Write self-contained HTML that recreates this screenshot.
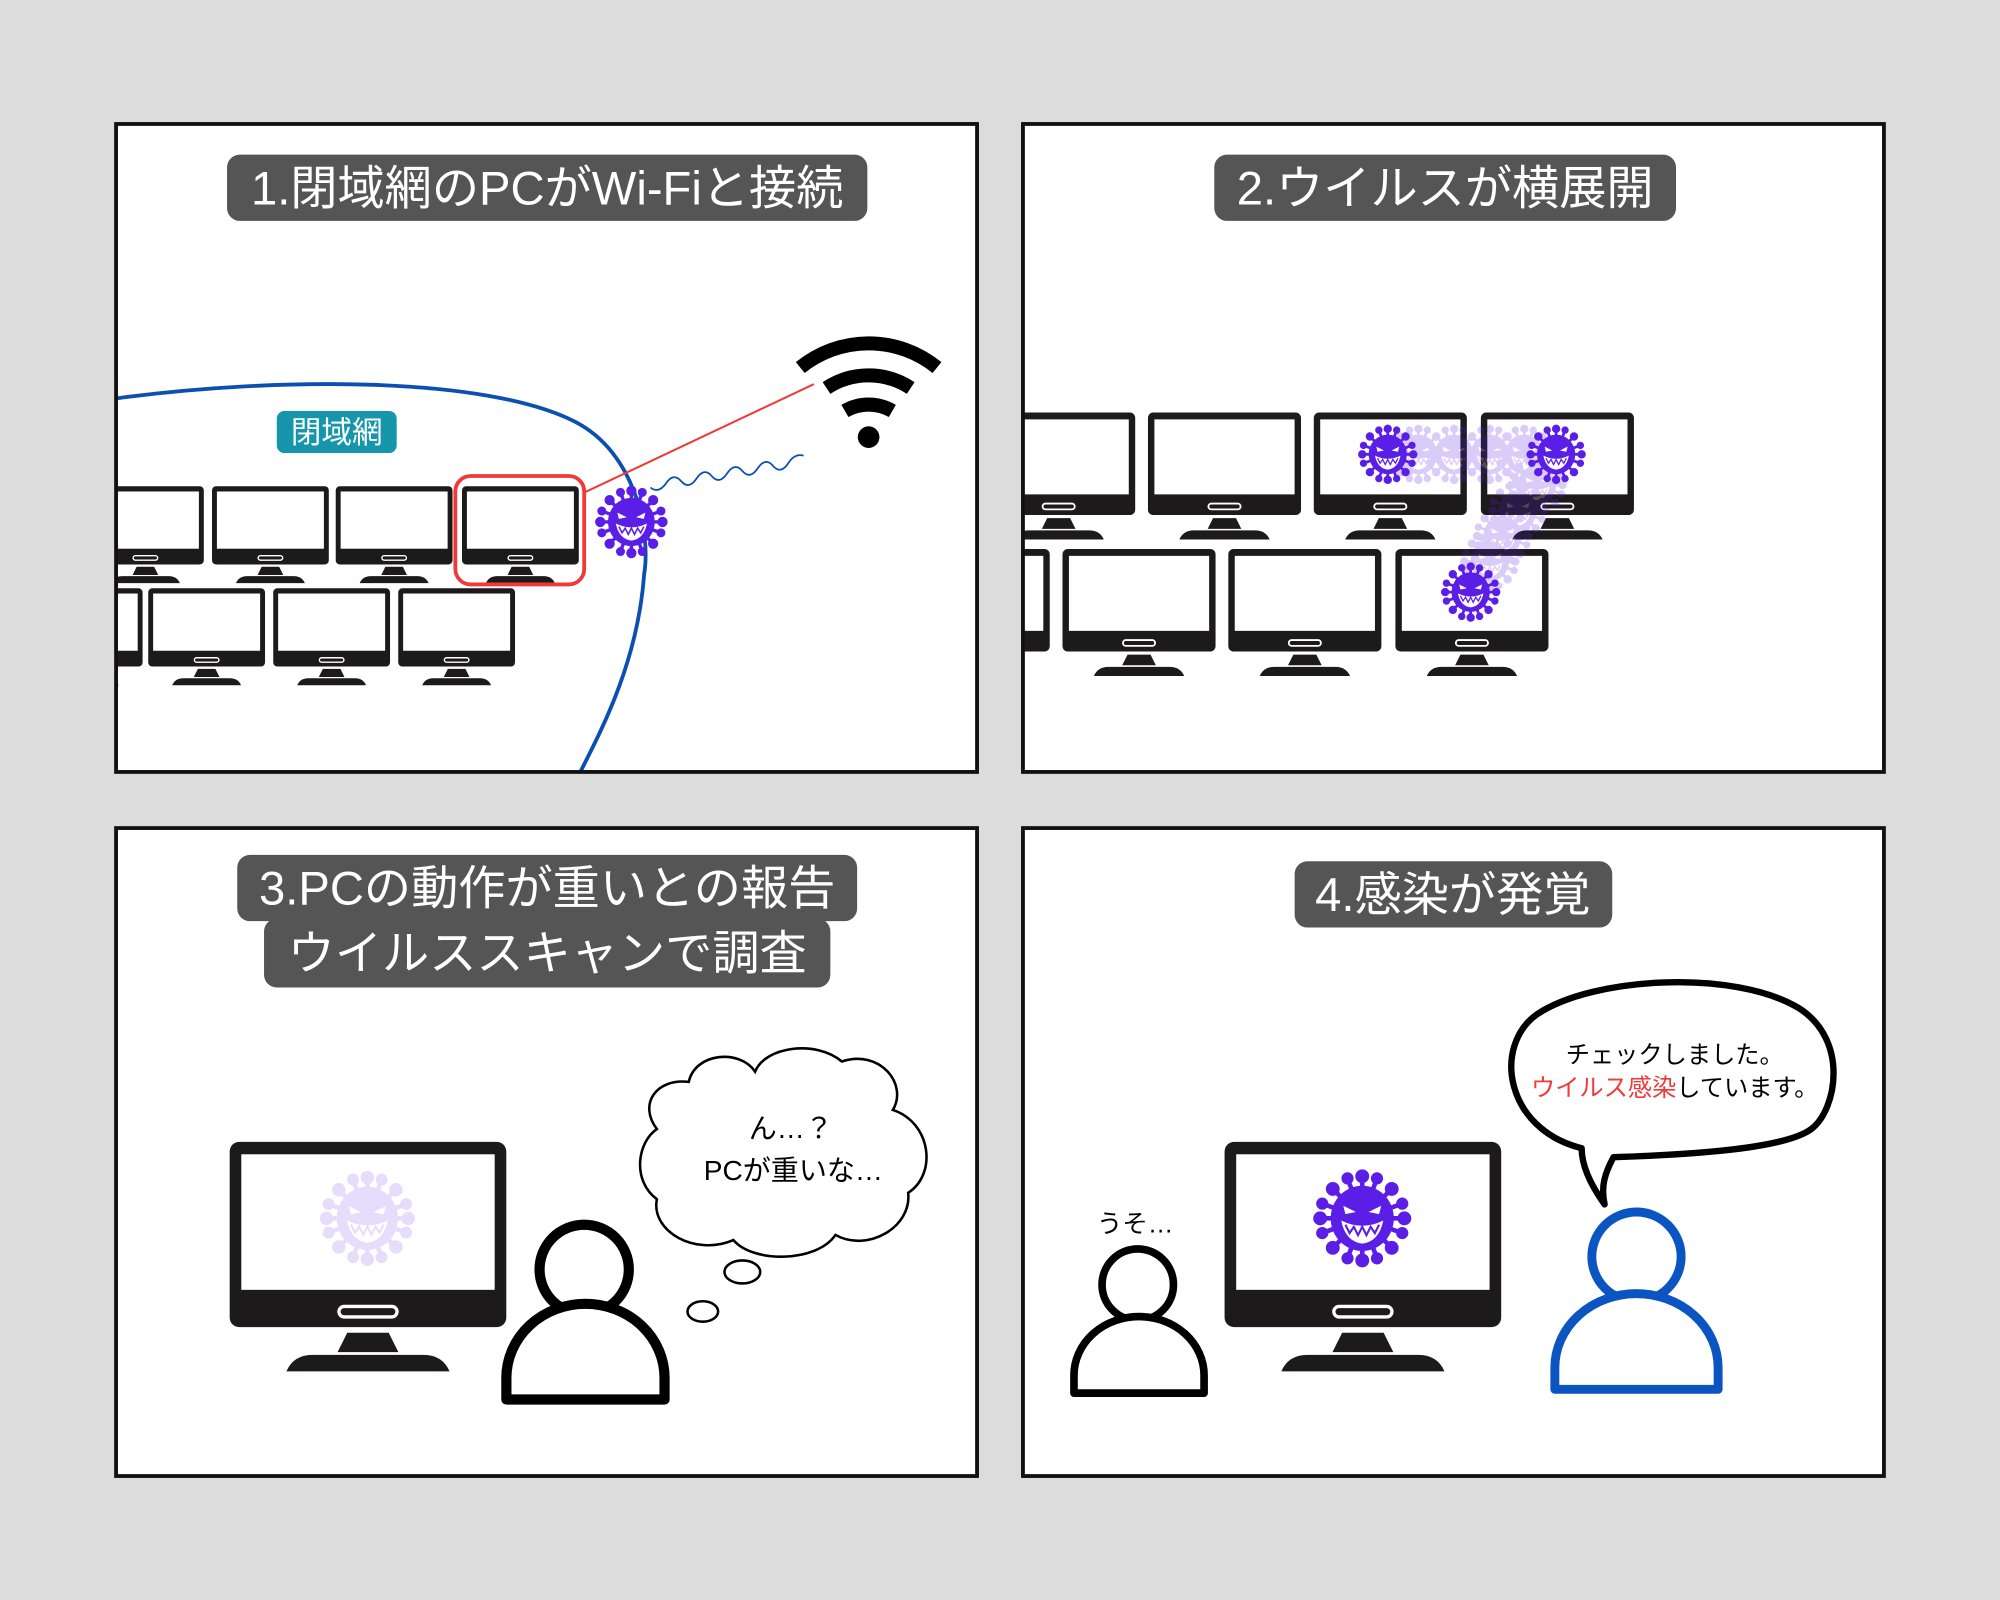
<!DOCTYPE html>
<html><head><meta charset="utf-8"><style>
html,body{margin:0;padding:0;background:#dcdcdc;}
svg{display:block;}
text{font-family:"Liberation Sans","Noto Sans CJK JP",sans-serif;}
</style></head><body>
<svg width="2000" height="1600" viewBox="0 0 1568 1254" xmlns="http://www.w3.org/2000/svg">
<defs>
<symbol id="mon" viewBox="0 0 100 83" overflow="visible">
  <rect x="0" y="0" width="100" height="67" rx="3.5" fill="#1c1a1b"/>
  <rect x="4.2" y="4.5" width="91.6" height="49" fill="#fff"/>
  <rect x="39.5" y="59.5" width="21" height="3.8" rx="1.9" fill="none" stroke="#fff" stroke-width="1.2"/>
  <path d="M42.5 69 L57.5 69 L61 76 L39 76 Z" fill="#1c1a1b"/>
  <path d="M20.5 83 Q23 77 30 77 L70 77 Q77 77 79.5 83 Z" fill="#1c1a1b"/>
</symbol>
<g id="vir">
  <g stroke="#5b1ee6" stroke-width="2.2" fill="#5b1ee6">
    <line x1="0" y1="-20" x2="0" y2="20"/><line x1="-20" y1="0" x2="20" y2="0"/>
    <line x1="-14" y1="-14" x2="14" y2="14"/><line x1="14" y1="-14" x2="-14" y2="14"/>
    <line x1="-7" y1="-19" x2="7" y2="19"/><line x1="7" y1="-19" x2="-7" y2="19"/>
    <line x1="-19" y1="-7" x2="19" y2="7"/><line x1="19" y1="-7" x2="-19" y2="7"/>
    <circle cx="0" cy="-20" r="2.2"/><circle cx="0" cy="20" r="2.2"/><circle cx="-20" cy="0" r="2.2"/><circle cx="20" cy="0" r="2.2"/>
    <circle cx="-14" cy="-14" r="2.2"/><circle cx="14" cy="14" r="2.2"/><circle cx="14" cy="-14" r="2.2"/><circle cx="-14" cy="14" r="2.2"/>
    <circle cx="-7" cy="-19" r="1.8"/><circle cx="7" cy="19" r="1.8"/><circle cx="7" cy="-19" r="1.8"/><circle cx="-7" cy="19" r="1.8"/>
    <circle cx="-19" cy="-7" r="1.8"/><circle cx="19" cy="7" r="1.8"/><circle cx="19" cy="-7" r="1.8"/><circle cx="-19" cy="7" r="1.8"/>
  </g>
  <ellipse cx="0" cy="0" rx="15" ry="15.5" fill="#5b1ee6"/>
  <path d="M-9 -6 L-3 -3 L-8 -2 Z M9 -6 L3 -3 L8 -2 Z" fill="#fff"/>
  <path d="M-10 1 Q0 6 10 1 Q8 11 0 12 Q-8 11 -10 1 Z" fill="#fff"/>
  <path d="M-8 3 L-6 7 L-4 4 L-2 8 L0 4 L2 8 L4 4 L6 7 L8 3" fill="none" stroke="#5b1ee6" stroke-width="1"/>
</g>
</defs>

<rect width="1568" height="1254" fill="#dcdcdc"/>

<!-- Panel 1 -->
<svg x="91" y="97" width="675" height="508" viewBox="91 97 675 508">
  <rect x="91" y="97" width="675" height="508" fill="#fff"/>
  <path d="M92 312 C220 295 380 295 450 330 C500 355 510 420 505 450 C500 520 470 575 455 605" fill="none" stroke="#0b4fb0" stroke-width="3"/>
  <use href="#mon" x="68" y="381" width="92" height="76"/>
  <use href="#mon" x="166" y="381" width="92" height="76"/>
  <use href="#mon" x="263" y="381" width="92" height="76"/>
  <use href="#mon" x="362" y="381" width="92" height="76"/>
  <use href="#mon" x="20" y="461" width="92" height="76"/>
  <use href="#mon" x="116" y="461" width="92" height="76"/>
  <use href="#mon" x="214" y="461" width="92" height="76"/>
  <use href="#mon" x="312" y="461" width="92" height="76"/>
  <rect x="357" y="373" width="101" height="85" rx="12" fill="none" stroke="#f03a3a" stroke-width="3"/>
  <line x1="458" y1="386" x2="638" y2="301" stroke="#f03a3a" stroke-width="1.6"/>
  <path d="M510 382 q6 5 12 -3 q6 -9 12 -2 q6 7 12 -2 q6 -9 12 -2 q6 7 12 -2 q6 -9 12 -2 q6 7 12 -2 q6 -9 12 -2 q6 7 12 -2 q5 -8 12 -6" fill="none" stroke="#0b4fb0" stroke-width="1.4"/>
  <g transform="translate(495,409) scale(1.22)"><use href="#vir"/></g>
  <g fill="none" stroke="#000" stroke-width="11">
    <path d="M627.4 288 A85 85 0 0 1 734.6 288"/>
    <path d="M648 304 A60 60 0 0 1 714 304"/>
    <path d="M662.4 322 A37 37 0 0 1 699.6 322"/>
  </g>
  <circle cx="681" cy="342.5" r="8.5" fill="#000"/>
  <rect x="217" y="322" width="94" height="33" rx="6" fill="#1696ab"/>
  <text x="264" y="347" font-size="24" fill="#fff" text-anchor="middle">閉域網</text>
  <rect x="178" y="121" width="502" height="52" rx="10" fill="#555"/>
  <text x="429" y="160" font-size="37" fill="#fff" text-anchor="middle">1.閉域網のPCがWi-Fiと接続</text>
</svg>
<rect x="91" y="97" width="675" height="508" fill="none" stroke="#111" stroke-width="3"/>

<!-- Panel 2 -->
<svg x="802" y="97" width="675" height="508" viewBox="802 97 675 508">
  <rect x="802" y="97" width="675" height="508" fill="#fff"/>
  <use href="#mon" x="770" y="323" width="120" height="100"/>
  <use href="#mon" x="900" y="323" width="120" height="100"/>
  <use href="#mon" x="1030" y="323" width="120" height="100"/>
  <use href="#mon" x="1161" y="323" width="120" height="100"/>
  <use href="#mon" x="703" y="430" width="120" height="100"/>
  <use href="#mon" x="833" y="430" width="120" height="100"/>
  <use href="#mon" x="963" y="430" width="120" height="100"/>
  <use href="#mon" x="1094" y="430" width="120" height="100"/>
  <g opacity="0.22">
    <use href="#vir" transform="translate(1112,356)"/>
    <use href="#vir" transform="translate(1140,356)"/>
    <use href="#vir" transform="translate(1168,356)"/>
    <use href="#vir" transform="translate(1195,356)"/>
    <use href="#vir" transform="translate(1205,380)"/>
    <use href="#vir" transform="translate(1190,400)"/>
    <use href="#vir" transform="translate(1178,420)"/>
    <use href="#vir" transform="translate(1168,440)"/>
  </g>
  <use href="#vir" transform="translate(1088,356)"/>
  <use href="#vir" transform="translate(1220,356)"/>
  <use href="#vir" transform="translate(1153,464)"/>
  <rect x="952" y="121" width="362" height="52" rx="10" fill="#555"/>
  <text x="1133" y="160" font-size="37" fill="#fff" text-anchor="middle">2.ウイルスが横展開</text>
</svg>
<rect x="802" y="97" width="675" height="508" fill="none" stroke="#111" stroke-width="3"/>

<!-- Panel 3 -->
<rect x="91" y="649" width="675" height="508" fill="#fff" stroke="#111" stroke-width="3"/>
<rect x="186" y="670" width="486" height="52" rx="10" fill="#555"/>
<rect x="207" y="720" width="444" height="54" rx="10" fill="#555"/>
<text x="429" y="709" font-size="37" fill="#fff" text-anchor="middle">3.PCの動作が重いとの報告</text>
<text x="429" y="760" font-size="37" fill="#fff" text-anchor="middle">ウイルススキャンで調査</text>
<use href="#mon" x="180" y="895" width="217" height="180"/>
<g opacity="0.15" transform="translate(288,955) scale(1.6)"><use href="#vir"/></g>
<circle cx="458" cy="995" r="35" fill="#fff" stroke="#000" stroke-width="8"/>
<path d="M397 1097 L397 1080 A62 58 0 0 1 521 1080 L521 1097 Z" fill="#fff" stroke="#000" stroke-width="8" stroke-linejoin="round"/>
<path d="M540 848 C545 825 580 822 592 840 C600 820 640 815 660 832 C690 822 712 850 700 870 C730 880 735 920 712 935 C715 962 680 982 655 968 C640 990 590 990 575 972 C545 985 510 965 515 940 C495 925 500 895 515 885 C500 865 515 845 540 848 Z" fill="#fff" stroke="#000" stroke-width="2"/>
<ellipse cx="582" cy="997" rx="14" ry="9" fill="#fff" stroke="#000" stroke-width="2"/>
<ellipse cx="551" cy="1028" rx="12" ry="8" fill="#fff" stroke="#000" stroke-width="2"/>
<text x="620" y="892" font-size="22" text-anchor="middle" fill="#000">ん…？</text>
<text x="622" y="925" font-size="22" text-anchor="middle" fill="#000">PCが重いな…</text>

<!-- Panel 4 -->
<rect x="802" y="649" width="675" height="508" fill="#fff" stroke="#111" stroke-width="3"/>
<rect x="1015" y="675" width="249" height="52" rx="10" fill="#555"/>
<text x="1139" y="714" font-size="37" fill="#fff" text-anchor="middle">4.感染が発覚</text>
<use href="#mon" x="960" y="895" width="217" height="180"/>
<g transform="translate(1068,955) scale(1.65)"><use href="#vir"/></g>
<circle cx="892" cy="1007" r="28" fill="#fff" stroke="#000" stroke-width="6"/>
<path d="M842 1092 L842 1078 A51 46 0 0 1 944 1078 L944 1092 Z" fill="#fff" stroke="#000" stroke-width="6" stroke-linejoin="round"/>
<text x="890" y="966" font-size="20" text-anchor="middle" fill="#000">うそ…</text>
<circle cx="1283" cy="985" r="35" fill="#fff" stroke="#0b55c2" stroke-width="7"/>
<path d="M1219 1089 L1219 1072 A64 58 0 0 1 1347 1072 L1347 1089 Z" fill="#fff" stroke="#0b55c2" stroke-width="7" stroke-linejoin="round"/>
<path d="M1240 900 C1180 885 1170 820 1205 795 C1250 765 1360 760 1410 790 C1450 815 1440 870 1420 885 C1400 900 1330 905 1265 907 C1258 920 1255 930 1258 944 C1248 930 1240 915 1240 900 Z" fill="#fff" stroke="#000" stroke-width="5" stroke-linejoin="round"/>
<text x="1313" y="833" font-size="19" text-anchor="middle" fill="#000">チェックしました。</text>
<text x="1313" y="859" font-size="19" text-anchor="middle" fill="#000"><tspan fill="#f03a3a">ウイルス感染</tspan>しています。</text>
</svg>
</body></html>
